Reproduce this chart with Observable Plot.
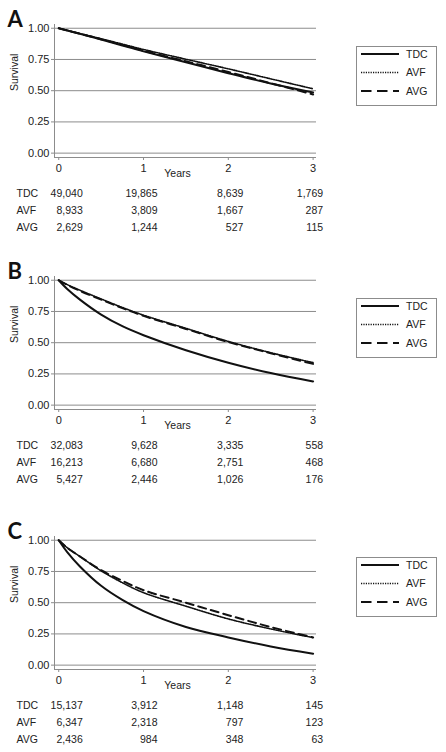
<!DOCTYPE html>
<html><head><meta charset="utf-8">
<script src="https://cdn.jsdelivr.net/npm/d3@7"></script>
<script src="https://cdn.jsdelivr.net/npm/@observablehq/plot@0.6"></script>
<style>
body{margin:0;background:#fff;}
#root{position:relative;width:446px;height:752px;overflow:hidden;font-family:"Liberation Sans",Arial,sans-serif;color:#222;}
.panel{position:absolute;left:0;width:446px;height:250px;}
.panel svg{position:absolute;left:0;overflow:visible;}
.legend{position:absolute;left:356px;width:81px;height:60px;border:1px solid #8c8c8c;box-sizing:border-box;background:#fff;}
</style></head><body><div id="root"></div>
<script>
// ---- data ----
const panelLabels = ["A", "B", "C"];
const groups = ["TDC", "AVF", "AVG"];
const years = [0, 0.1, 0.25, 0.5, 0.75, 1, 1.5, 2, 2.5, 3];
const tickYears = [0, 1, 2, 3];
const survivalTicks = [0, 0.25, 0.5, 0.75, 1];

// Panel A survival
const survA_TDC = [1, 0.982, 0.955, 0.91, 0.862, 0.815, 0.728, 0.64, 0.557, 0.485];
const survA_AVF = [1, 0.983, 0.958, 0.916, 0.873, 0.83, 0.752, 0.675, 0.595, 0.515];
const survA_AVG = [1, 0.982, 0.956, 0.912, 0.867, 0.82, 0.735, 0.65, 0.56, 0.47];
// Panel B survival
const survB_TDC = [1, 0.93, 0.845, 0.725, 0.632, 0.56, 0.44, 0.34, 0.257, 0.19];
const survB_AVF = [1, 0.965, 0.92, 0.85, 0.782, 0.72, 0.615, 0.51, 0.42, 0.34];
const survB_AVG = [1, 0.963, 0.915, 0.845, 0.777, 0.715, 0.61, 0.505, 0.415, 0.33];
// Panel C survival
const survC_TDC = [1, 0.905, 0.79, 0.635, 0.522, 0.432, 0.305, 0.222, 0.15, 0.092];
const survC_AVF = [1, 0.94, 0.87, 0.755, 0.66, 0.58, 0.472, 0.37, 0.29, 0.22];
const survC_AVG = [1, 0.94, 0.87, 0.76, 0.675, 0.60, 0.5, 0.40, 0.305, 0.222];

// Numbers at risk (at 0, 1, 2, 3 years)
const riskA_TDC = [49040, 19865, 8639, 1769];
const riskA_AVF = [8933, 3809, 1667, 287];
const riskA_AVG = [2629, 1244, 527, 115];
const riskB_TDC = [32083, 9628, 3335, 558];
const riskB_AVF = [16213, 6680, 2751, 468];
const riskB_AVG = [5427, 2446, 1026, 176];
const riskC_TDC = [15137, 3912, 1148, 145];
const riskC_AVF = [6347, 2318, 797, 123];
const riskC_AVG = [2436, 984, 348, 63];

const survival = {
  A: {TDC: survA_TDC, AVF: survA_AVF, AVG: survA_AVG},
  B: {TDC: survB_TDC, AVF: survB_AVF, AVG: survB_AVG},
  C: {TDC: survC_TDC, AVF: survC_AVF, AVG: survC_AVG}
};
const atRisk = {
  A: {TDC: riskA_TDC, AVF: riskA_AVF, AVG: riskA_AVG},
  B: {TDC: riskB_TDC, AVF: riskB_AVF, AVG: riskB_AVG},
  C: {TDC: riskC_TDC, AVF: riskC_AVF, AVG: riskC_AVG}
};

// ---- layout / style ----
const FONT = '"Liberation Sans", Arial, sans-serif';
const GRID = "#8c8c8c";
const INK = "#111";
const lineStyle = {
  TDC: {strokeWidth: 2, strokeDasharray: null},
  AVF: {strokeWidth: 1.6, strokeDasharray: "1.2,1.2"},
  AVG: {strokeWidth: 2, strokeDasharray: "8,5"}
};
const panelTops = [4.25, 256.25, 515.5];
const xDomain = [-0.05, 3.04];
const yDomain = [-0.035, 1.03];
const colDx = [24, 14, 15, 10];
const fmt = d3.format(",");

const root = document.getElementById("root");

panelLabels.forEach((p, pi) => {
  const div = document.createElement("div");
  div.className = "panel";
  div.style.top = panelTops[pi] + "px";
  root.appendChild(div);

  const rows = [];
  groups.forEach(g => years.forEach((t, i) => rows.push({group: g, year: t, surv: survival[p][g][i]})));

  const chart = Plot.plot({
    width: 446, height: 183,
    marginLeft: 54, marginRight: 130, marginTop: 20, marginBottom: 30,
    x: {domain: xDomain},
    y: {domain: yDomain},
    style: {fontFamily: FONT, fontSize: "11px", color: "#222", background: "transparent", overflow: "visible"},
    marks: [
      Plot.ruleY(survivalTicks, {stroke: GRID, strokeWidth: 1}),
      Plot.ruleX([xDomain[0]], {stroke: GRID, strokeWidth: 1}),
      Plot.ruleY([yDomain[0]], {stroke: GRID, strokeWidth: 1}),
      Plot.axisY(survivalTicks, {tickFormat: d3.format(".2f"), tickSize: 3, tickPadding: 2, label: null, stroke: GRID, fill: "#222"}),
      Plot.axisX(tickYears, {tickFormat: d => String(d), tickSize: 3, tickPadding: 4, label: null, stroke: GRID, fill: "#222"}),
      ...groups.map(g => Plot.line(rows.filter(r => r.group === g), {
        x: "year", y: "surv", stroke: INK, curve: "catmull-rom",
        strokeWidth: lineStyle[g].strokeWidth,
        strokeDasharray: lineStyle[g].strokeDasharray
      })),
      Plot.text(["Years"], {frameAnchor: "bottom", dx: -8, dy: 19, text: d => d, fontSize: 10.5, fill: "#222"}),
      Plot.text(["Survival"], {frameAnchor: "left", dx: -40, rotate: -90, text: d => d, fontSize: 10.5, fill: "#222"})
    ]
  });
  chart.style.top = "0px";
  div.appendChild(chart);

  // at-risk table
  const riskRows = [];
  groups.forEach(g => tickYears.forEach((t, i) => riskRows.push({group: g, year: t, col: i, n: atRisk[p][g][i]})));
  const table = Plot.plot({
    width: 446, height: 60,
    marginLeft: 54, marginRight: 130, marginTop: 10, marginBottom: 15,
    x: {domain: xDomain, axis: null},
    y: {domain: groups, type: "point", padding: 0, axis: null},
    style: {fontFamily: FONT, fontSize: "10.5px", color: "#222", background: "transparent", overflow: "visible"},
    marks: [
      Plot.text(groups, {y: d => d, text: d => d, frameAnchor: "left", dx: -38, textAnchor: "start", fill: "#222"}),
      ...tickYears.map((t, i) => Plot.text(riskRows.filter(r => r.col === i), {
        x: "year", y: "group", text: d => fmt(d.n), textAnchor: "end", dx: colDx[i], fill: "#222"
      }))
    ]
  });
  table.style.top = "178px";
  div.appendChild(table);

  // panel letter
  const letter = d3.select(div).append("svg")
    .attr("width", 40).attr("height", 30)
    .style("top", "0px").style("left", "0px");
  letter.append("text").attr("x", 7.5).attr("y", 22.75)
    .attr("font-family", "Lato, 'Open Sans', sans-serif").attr("font-weight", "bold")
    .attr("font-size", 22).attr("fill", "#111").text(p);

  // legend
  const leg = document.createElement("div");
  leg.className = "legend";
  leg.style.top = "41.75px";
  div.appendChild(leg);
  const ls = d3.select(leg).append("svg").attr("width", 79).attr("height", 58).style("top", "0px");
  const ys = [7, 25.5, 44];
  groups.forEach((g, i) => {
    ls.append("line").attr("x1", 4).attr("x2", 42).attr("y1", ys[i]).attr("y2", ys[i])
      .attr("stroke", INK).attr("stroke-width", lineStyle[g].strokeWidth)
      .attr("stroke-dasharray", g === "AVG" ? "10.5,5.5" : lineStyle[g].strokeDasharray);
    ls.append("text").attr("x", 49).attr("y", ys[i]).attr("dy", "0.35em")
      .attr("font-family", FONT).attr("font-size", 10.5).attr("fill", "#222").text(g);
  });
});
</script></body></html>
